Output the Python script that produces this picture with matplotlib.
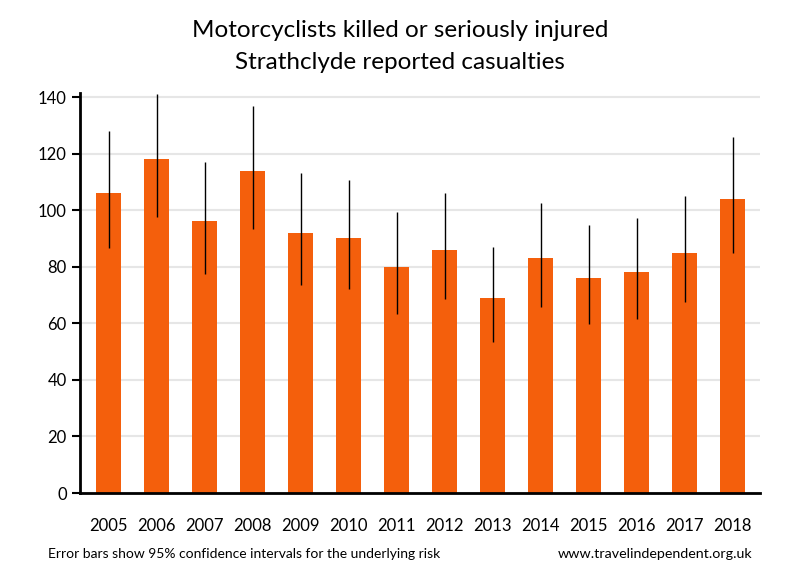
import matplotlib
matplotlib.use("Agg")
import matplotlib.pyplot as plt
import numpy as np

years = ["2005", "2006", "2007", "2008", "2009", "2010", "2011",
         "2012", "2013", "2014", "2015", "2016", "2017", "2018"]
casualties = [106, 118, 96, 114, 92, 90, 80, 86, 69, 83, 76, 78, 85, 104]
ci_low = [86.5, 97.5, 77.5, 93.5, 73.5, 72, 63.3, 68.5, 53.3, 65.7, 59.7, 61.5, 67.5, 85]
ci_high = [128, 141, 117, 136.8, 113, 110.5, 99.2, 106, 87, 102.5, 94.7, 97.2, 105, 125.8]

plt.rcParams["font.family"] = ["Lato", "DejaVu Sans"]

fig = plt.figure(figsize=(8, 5.8), dpi=100)
ax = fig.add_axes([0.1, 0.15, 0.85, 0.69])

x = np.arange(len(years))
vals = np.array(casualties)
yerr = [vals - np.array(ci_low), np.array(ci_high) - vals]
ax.bar(x, vals, width=0.52, color="#F45F0C", zorder=2)
ax.errorbar(x, vals, yerr=yerr, fmt="none", ecolor="black", elinewidth=1,
            capsize=0, zorder=3)

ax.set_xlim(-0.6, 13.57)
ax.set_ylim(0, 141.5)
ax.set_yticks(range(0, 141, 20))
ax.set_xticks(x)
ax.set_xticklabels(years)
ax.yaxis.grid(True, color="#E6E6E6", linewidth=1.5, zorder=0)
ax.set_axisbelow(True)
for s in ["top", "right"]:
    ax.spines[s].set_visible(False)
ax.spines["left"].set_linewidth(2)
ax.spines["bottom"].set_linewidth(2)
ax.tick_params(axis="y", length=6, width=1.5, labelsize=12)
ax.tick_params(axis="x", length=0, pad=18, labelsize=12)

fig.text(0.5, 0.947, "Motorcyclists killed or seriously injured",
         ha="center", va="center", fontsize=17.5)
fig.text(0.5, 0.892, "Strathclyde reported casualties",
         ha="center", va="center", fontsize=17.5)
fig.text(0.06, 0.045, "Error bars show 95% confidence intervals for the underlying risk",
         ha="left", va="center", fontsize=10)
fig.text(0.94, 0.045, "www.travelindependent.org.uk",
         ha="right", va="center", fontsize=10.3)

fig.savefig("out.png", dpi=100)
